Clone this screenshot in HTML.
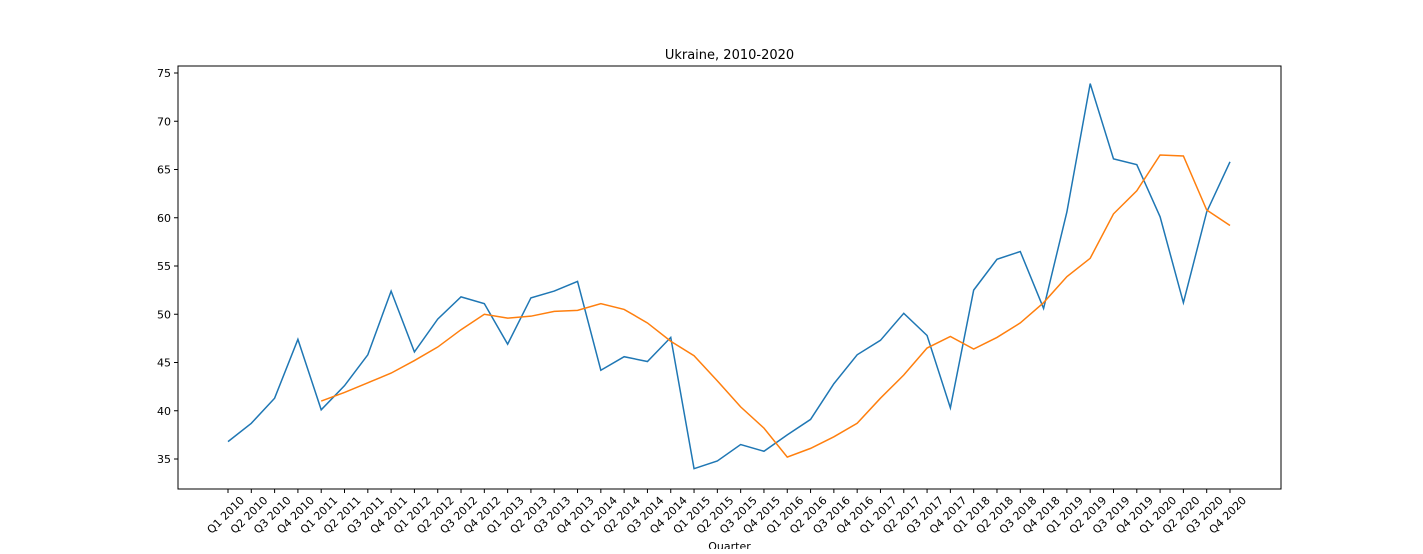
<!DOCTYPE html>
<html><head><meta charset="utf-8"><style>
body{margin:0;background:#fff;}
svg text{font-family:"DejaVu Sans","Liberation Sans",sans-serif;fill:#000;}
</style></head><body>
<svg id="chart" width="1423" height="549" xmlns="http://www.w3.org/2000/svg"></svg>
<script>
const quarters=[];for(let y=2010;y<=2020;y++)for(let q=1;q<=4;q++)quarters.push('Q'+q+' '+y);
const seriesValues=[36.8,38.7,41.3,47.4,40.1,42.6,45.8,52.4,46.1,49.5,51.8,51.1,46.9,51.7,52.4,53.4,44.2,45.6,45.1,47.6,34.0,34.8,36.5,35.8,37.5,39.1,42.8,45.8,47.3,50.1,47.8,40.3,52.5,55.7,56.5,50.6,60.6,73.9,66.1,65.5,60.1,51.2,60.6,65.8];
const rollingValues=[null,null,null,null,41.0,41.9,42.9,43.9,45.2,46.6,48.4,50.0,49.6,49.8,50.3,50.4,51.1,50.5,49.1,47.2,45.7,43.1,40.4,38.2,35.2,36.1,37.3,38.7,41.3,43.7,46.5,47.7,46.4,47.6,49.1,51.2,53.9,55.8,60.4,62.8,66.5,66.4,60.8,59.2];
const yTicks=[35,40,45,50,55,60,65,70,75];
const NS='http://www.w3.org/2000/svg';const svg=document.getElementById('chart');
const L=178,R=1281,T=66,B=489;
const x=i=>228+i*(1230-228)/(quarters.length-1);
const y=v=>459-(v-35)*(459-73)/40;
function mk(t,a,p){const e=document.createElementNS(NS,t);for(const k in a)e.setAttribute(k,a[k]);(p||svg).appendChild(e);return e;}
const frame=mk('rect',{x:L,y:T,width:R-L,height:B-T,fill:'none',stroke:'#000','stroke-width':1});


yTicks.forEach(v=>{const g=mk('g',{});


mk('line',{x1:L-4,x2:L,y1:y(v),y2:y(v),stroke:'#000'},g);
const t=mk('text',{x:L-7,y:y(v)+4,'text-anchor':'end','font-size':11},g);t.textContent=v;});
quarters.forEach((q,i)=>{const g=mk('g',{});


mk('line',{x1:x(i),x2:x(i),y1:B,y2:B+4,stroke:'#000'},g);
const t=mk('text',{x:0,y:0,'text-anchor':'end','font-size':11,transform:`translate(${x(i)+17},${B+12}) rotate(-45)`},g);t.textContent=q;});
function line(vals,col,name){let d='';vals.forEach((v,i)=>{if(v==null)return;d+=(d?'L':'M')+x(i)+' '+y(v);});
const p=mk('path',{d:d,fill:'none',stroke:col,'stroke-width':1.5});

}
line(seriesValues,'#1f77b4','series-line');
line(rollingValues,'#ff7f0e','rolling-mean-line');
const tt=mk('text',{x:729.5,y:59,'text-anchor':'middle','font-size':13});tt.textContent='Ukraine, 2010-2020';


const xt=mk('text',{x:729.5,y:550,'text-anchor':'middle','font-size':11});xt.textContent='Quarter';


</script></body></html>
